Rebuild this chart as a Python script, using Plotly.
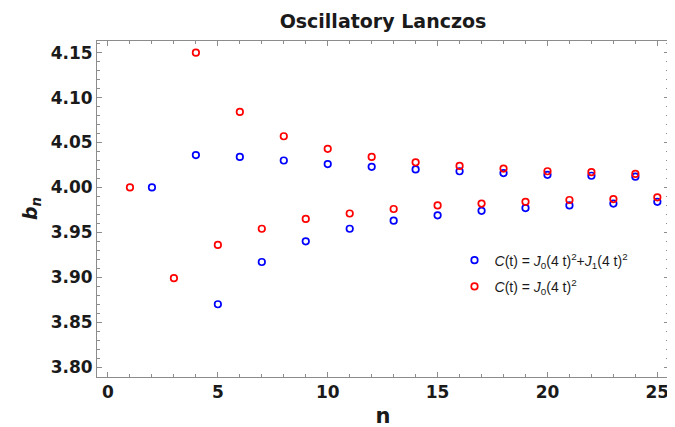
import plotly.graph_objects as go

n_blue = [2, 4, 5, 6, 7, 8, 9, 10, 11, 12, 13, 14, 15, 16, 17, 18, 19, 20, 21, 22, 23, 24, 25]
b_blue = [4.000, 4.036, 3.870, 4.034, 3.917, 4.030, 3.940, 4.026, 3.954, 4.023, 3.963,
          4.020, 3.969, 4.018, 3.974, 4.016, 3.977, 4.014, 3.980, 4.013, 3.982, 4.012, 3.984]

n_red = [1, 3, 4, 5, 6, 7, 8, 9, 10, 11, 12, 13, 14, 15, 16, 17, 18, 19, 20, 21, 22, 23, 24, 25]
b_red = [4.000, 3.899, 4.150, 3.936, 4.084, 3.954, 4.057, 3.965, 4.043, 3.971, 4.034, 3.976,
         4.028, 3.980, 4.024, 3.982, 4.021, 3.984, 4.018, 3.986, 4.017, 3.987, 4.015, 3.989]

name_blue = "<i>C</i>(t) = <i>J</i><sub>0</sub>(4 t)<sup>2</sup>+<i>J</i><sub>1</sub>(4 t)<sup>2</sup>"
name_red = "<i>C</i>(t) = <i>J</i><sub>0</sub>(4 t)<sup>2</sup>"
y_title = "<i>b</i><sub><i>n</i></sub>"

BOLD = "DejaVu Sans, sans-serif"
LEG = "Liberation Sans, Arial, sans-serif"
TXT = "#1a1a1a"
FRAME = "#8c8c8c"

fig = go.Figure()
fig.add_trace(go.Scatter(x=n_blue, y=b_blue, mode="markers", name=name_blue,
                         legendgroup="a",
                         marker=dict(symbol="circle-open", size=6.5, color="#0000ff",
                                     line=dict(width=1.7, color="#0000ff"))))
fig.add_trace(go.Scatter(x=n_red, y=b_red, mode="markers", name=name_red,
                         legendgroup="b",
                         marker=dict(symbol="circle-open", size=6.5, color="#ff0000",
                                     line=dict(width=1.7, color="#ff0000"))))

axis_common = dict(showgrid=False, zeroline=False, showline=True, linecolor=FRAME,
                   linewidth=1, mirror="allticks", ticks="inside", tickcolor=FRAME,
                   ticklen=5, tickwidth=1,
                   tickfont=dict(family=BOLD, size=17, color=TXT, weight="bold"))

fig.update_xaxes(range=[-0.5, 25.53], tick0=0, dtick=5,
                 minor=dict(ticks="inside", dtick=1, ticklen=3, tickcolor=FRAME),
                 title=dict(text="n", font=dict(family=BOLD, size=21, color=TXT, weight="bold"),
                            standoff=6),
                 **axis_common)
fig.update_yaxes(range=[3.789, 4.163], tick0=3.8, dtick=0.05, tickformat=".2f",
                 minor=dict(ticks="inside", dtick=0.01, ticklen=3, tickcolor=FRAME),
                 **axis_common)

fig.add_annotation(text=y_title, xref="paper", yref="paper",
                   x=(23 - 89) / 572, y=0.5, xanchor="center", yanchor="middle",
                   textangle=-90, showarrow=False,
                   font=dict(family=BOLD, size=19, color=TXT, weight="bold"))

fig.update_layout(
    width=675, height=427,
    margin=dict(l=89, r=14, t=33, b=54),
    paper_bgcolor="white", plot_bgcolor="white",
    title=dict(text="Oscillatory Lanczos", x=375 / 675, xanchor="center",
               y=1 - 13 / 427, yanchor="middle",
               font=dict(family=BOLD, size=19, color=TXT, weight="bold")),
    legend=dict(x=0.625, y=0.394, xanchor="left", yanchor="top", bgcolor="rgba(0,0,0,0)",
                font=dict(family=LEG, size=14, color=TXT),
                traceorder="grouped", tracegroupgap=5),
    showlegend=True,
)

fig.write_html("out.html")
